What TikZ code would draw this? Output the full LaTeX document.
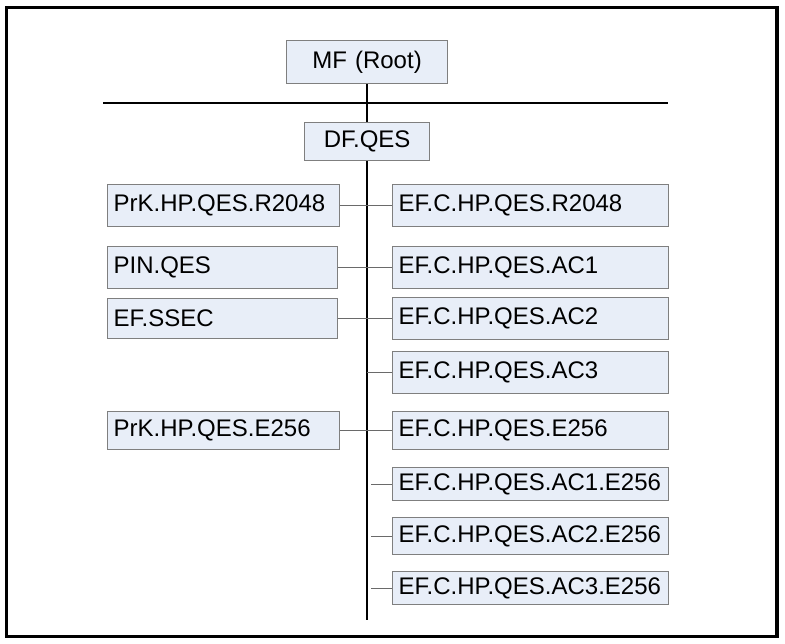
\documentclass[tikz,border=0pt]{standalone}
\usepackage{fontspec}
\setmainfont{Liberation Sans}
\usetikzlibrary{calc}
\begin{document}
\begin{tikzpicture}[x=1pt,y=-1pt,
  box/.style={draw=boxline, fill=boxfill, line width=1.2pt, inner sep=0pt,
    font=\fontsize{24}{28}\selectfont},
  lbox/.style={box, anchor=north west, align=left, inner xsep=6pt},
  cbox/.style={box, anchor=north west, align=center},
  link/.style={draw=linkgray, line width=1.2pt},
  trunk/.style={draw=black, line width=2.2pt}]
\definecolor{boxfill}{HTML}{E8EEF8}
\definecolor{boxline}{HTML}{7F7F7F}
\definecolor{linkgray}{HTML}{6A6A6A}
\useasboundingbox (0,0) rectangle (785,644);
\draw[line width=3.5pt] (6.5,7.5) rectangle (777,636.5);
% helper macros for boxes
\newcommand{\lb}[6]{\pgfmathsetmacro\tw{#4-#2-12}\pgfmathsetmacro\th{#5-#3}%
  \node[lbox, text width=\tw pt, minimum height=\th pt] (#1) at (#2,#3) {#6};}
\newcommand{\cb}[6]{\pgfmathsetmacro\tw{#4-#2}\pgfmathsetmacro\th{#5-#3}%
  \node[cbox, text width=\tw pt, minimum height=\th pt] (#1) at (#2,#3) {#6};}
\cb{mf}{286}{40}{447}{83}{MF (Root)}
\cb{df}{304}{122}{429}{160}{DF.QES}
\lb{l1}{107}{184}{339}{226}{PrK.HP.QES.R2048}
\lb{l2}{107}{246}{337}{288}{PIN.QES}
\lb{l3}{107}{298}{337}{338}{EF.SSEC}
\lb{l4}{107}{411}{339}{449}{PrK.HP.QES.E256}
\lb{r1}{392}{184}{668}{226}{EF.C.HP.QES.R2048}
\lb{r2}{392}{246}{668}{288}{EF.C.HP.QES.AC1}
\lb{r3}{392}{297}{668}{339}{EF.C.HP.QES.AC2}
\lb{r4}{392}{351}{668}{393}{EF.C.HP.QES.AC3}
\lb{r5}{392}{411}{668}{449}{EF.C.HP.QES.E256}
\lb{r6}{392}{467}{668}{500}{EF.C.HP.QES.AC1.E256}
\lb{r7}{392}{517}{668}{554}{EF.C.HP.QES.AC2.E256}
\lb{r8}{392}{571}{668}{604}{EF.C.HP.QES.AC3.E256}
% horizontal bar and trunk
\coordinate (hl) at (103,103);
\coordinate (hr) at (668,103);
\coordinate (tend) at (367,620);
\draw[trunk] (hl) -- (hr);
\draw[trunk] (mf.south) -- (df.north);
\draw[trunk] (df.south) -- (df.south |- tend);
% connectors
\draw[link] (l1.east) -- (r1.west);
\draw[link] (l2.east) -- (r2.west);
\draw[link] (l3.east) -- (r3.west);
\draw[link] (l4.east) -- (r5.west);
\draw[link] (r4.west) -- (r4.west -| df.south);
\foreach \n in {r6,r7,r8}{
  \coordinate (s\n) at ($(\n.west)+(-21,0)$);
  \draw[link] (s\n) -- (\n.west);
}
\end{tikzpicture}
\end{document}
